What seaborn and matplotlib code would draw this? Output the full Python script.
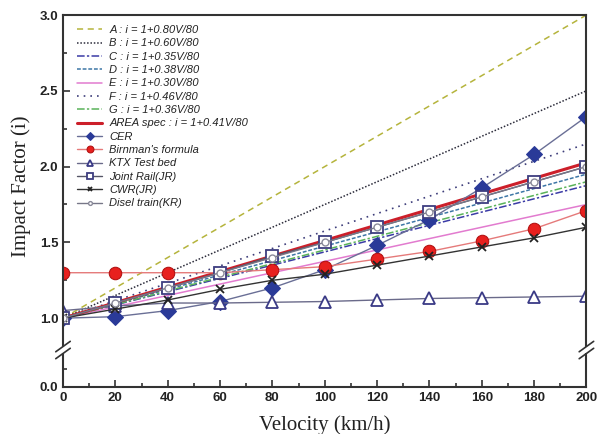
import numpy as np
import pandas as pd
import matplotlib
matplotlib.use('Agg')
import matplotlib.pyplot as plt
from matplotlib.lines import Line2D
from matplotlib.patches import Rectangle
import seaborn as sns

# данные: скорость и коэффициент динамичности
velocity = [0, 20, 40, 60, 80, 100, 120, 140, 160, 180, 200]
line_ends = [0, 200]

# формулы i = 1 + kV/80 (значения на концах, по картинке)
formula_labels = ['A : i = 1+0.80V/80', 'B : i = 1+0.60V/80', 'C : i = 1+0.35V/80',
                  'D : i = 1+0.38V/80', 'E : i = 1+0.30V/80', 'F : i = 1+0.46V/80',
                  'G : i = 1+0.36V/80', 'AREA spec : i = 1+0.41V/80']
line_A = [1.0, 3.0]
line_B = [1.0, 2.5]
line_C = [1.0, 1.875]
line_D = [1.0, 1.95]
line_E = [1.0, 1.75]
line_F = [1.0, 2.15]
line_G = [1.0, 1.90]
line_area = [1.0, 2.025]

# измерения
cer = [1.0, 1.01, 1.05, 1.11, 1.20, 1.32, 1.48, 1.65, 1.86, 2.08, 2.33]
birnman = [1.30, 1.30, 1.30, 1.30, 1.32, 1.34, 1.39, 1.44, 1.51, 1.59, 1.71]
ktx = [1.05, 1.08, 1.10, 1.10, 1.105, 1.11, 1.12, 1.13, 1.135, 1.14, 1.145]
joint_rail = [1.0, 1.10, 1.20, 1.30, 1.41, 1.50, 1.60, 1.70, 1.80, 1.90, 2.00]
cwr = [1.0, 1.06, 1.12, 1.19, 1.25, 1.29, 1.35, 1.41, 1.47, 1.53, 1.60]
disel = [1.0, 1.10, 1.20, 1.30, 1.40, 1.50, 1.60, 1.70, 1.80, 1.90, 2.00]

sns.set_style('ticks')
plt.rcParams['font.family'] = ['Liberation Sans', 'DejaVu Sans']

fig = plt.figure(figsize=(6.04, 4.34), dpi=100)
ax = fig.add_axes([0.1043, 0.1935, 0.8666, 0.7719])
axb = fig.add_axes([0.1043, 0.1083, 0.8666, 0.0852], sharex=ax)

formula_data = [line_A, line_B, line_C, line_D, line_E, line_F, line_G, line_area]
formula_styles = [
    dict(color='#b5b43c', lw=1.1, dashes=(4, 3)),
    dict(color='#2b2b3a', lw=1.1, dashes=(1, 1.2)),
    dict(color='#3b3ba6', lw=1.1, dashes=(5, 1.5, 1.5, 1.5)),
    dict(color='#3d76a6', lw=1.1, dashes=(2.5, 1.2)),
    dict(color='#e27bcf', lw=1.1),
    dict(color='#3d3d7a', lw=1.2, dashes=(1, 3)),
    dict(color='#5ab35a', lw=1.1, dashes=(5, 1.5, 1.5, 1.5)),
    dict(color='#cc1f2a', lw=2.2),
]
for lab, vals, st in zip(formula_labels, formula_data, formula_styles):
    sns.lineplot(x=line_ends, y=vals, ax=ax, label=lab, **st)

sns.lineplot(x=velocity, y=cer, ax=ax, label='CER', color='#6a6f96', lw=1,
             marker='D', markersize=8, markerfacecolor='#2a3a98', markeredgecolor='#2a3a98')
sns.lineplot(x=velocity, y=birnman, ax=ax, label="Birnman's formula", color='#e57a7a', lw=1,
             marker='o', markersize=9, markerfacecolor='#e8201e', markeredgecolor='#b01010')
sns.lineplot(x=velocity, y=ktx, ax=ax, label='KTX Test bed', color='#6a6a8a', lw=1,
             marker='^', markersize=9, markerfacecolor='white', markeredgecolor='#3a3a86',
             markeredgewidth=1.3)
sns.lineplot(x=velocity, y=joint_rail, ax=ax, label='Joint Rail(JR)', color='#555566', lw=1,
             marker='s', markersize=9, markerfacecolor='white', markeredgecolor='#3e3e80',
             markeredgewidth=1.3)
sns.lineplot(x=velocity, y=cwr, ax=ax, label='CWR(JR)', color='#333333', lw=1,
             marker='x', markersize=6, markeredgecolor='#222222', markeredgewidth=1.3)
sns.lineplot(x=velocity, y=disel, ax=ax, label='Disel train(KR)', color='#777788', lw=1,
             marker='o', markersize=5, markerfacecolor='white', markeredgecolor='#8a8a9a',
             markeredgewidth=1)

# оси
ax.set_xlim(0, 200)
ax.set_ylim(0.79, 3.0)
axb.set_ylim(0, 0.5)
ax.set_yticks([1.0, 1.5, 2.0, 2.5, 3.0])
ax.set_yticks([1.25, 1.75, 2.25, 2.75], minor=True)
axb.set_yticks([0.0])
axb.set_yticks([0.25], minor=True)
axb.set_xticks(range(0, 201, 20))
axb.set_xticks(range(10, 200, 20), minor=True)
ax.tick_params(axis='x', which='both', bottom=False, labelbottom=False)

for a in (ax, axb):
    a.tick_params(axis='both', which='both', direction='in', colors='#333333', width=1.2)
    a.tick_params(which='major', length=5, labelsize=9.5, labelcolor='#222222')
    a.tick_params(which='minor', length=3)
    for s in a.spines.values():
        s.set_color('#333333')
        s.set_linewidth(1.5)
ax.spines['bottom'].set_visible(False)
axb.spines['top'].set_visible(False)
axb.yaxis.set_major_formatter(matplotlib.ticker.FormatStrFormatter('%.1f'))
ax.yaxis.set_major_formatter(matplotlib.ticker.FormatStrFormatter('%.1f'))
for lbl in axb.get_xticklabels() + axb.get_yticklabels() + ax.get_yticklabels():
    lbl.set_fontweight('bold')

axb.set_xlabel('Velocity (km/h)', family='Liberation Serif', fontsize=15, color='#222222',
               labelpad=8)
fig.text(0.035, 0.57, 'Impact Factor (i)', rotation=90, va='center', ha='center',
         family='Liberation Serif', fontsize=15, color='#222222')

# разрыв оси
yb = 0.1935
for xb in (0.1043, 0.1043 + 0.8666):
    fig.add_artist(Rectangle((xb - 0.004, yb - 0.007), 0.008, 0.014, transform=fig.transFigure,
                             facecolor='white', edgecolor='none', zorder=5))
    for dy in (-0.008, 0.008):
        fig.add_artist(Line2D([xb - 0.012, xb + 0.012], [yb + dy - 0.012, yb + dy + 0.012],
                              transform=fig.transFigure, color='#333333', lw=1.2, zorder=6))

leg = ax.legend(loc='upper left', bbox_to_anchor=(0.0266, 0.97), frameon=False,
                borderpad=0, borderaxespad=0, fontsize=8, labelspacing=0.3,
                handlelength=2.3, handletextpad=0.6, markerscale=0.55)
for t in leg.get_texts():
    t.set_fontstyle('italic')
    t.set_color('#222222')

fig.savefig('out.png', dpi=100)
